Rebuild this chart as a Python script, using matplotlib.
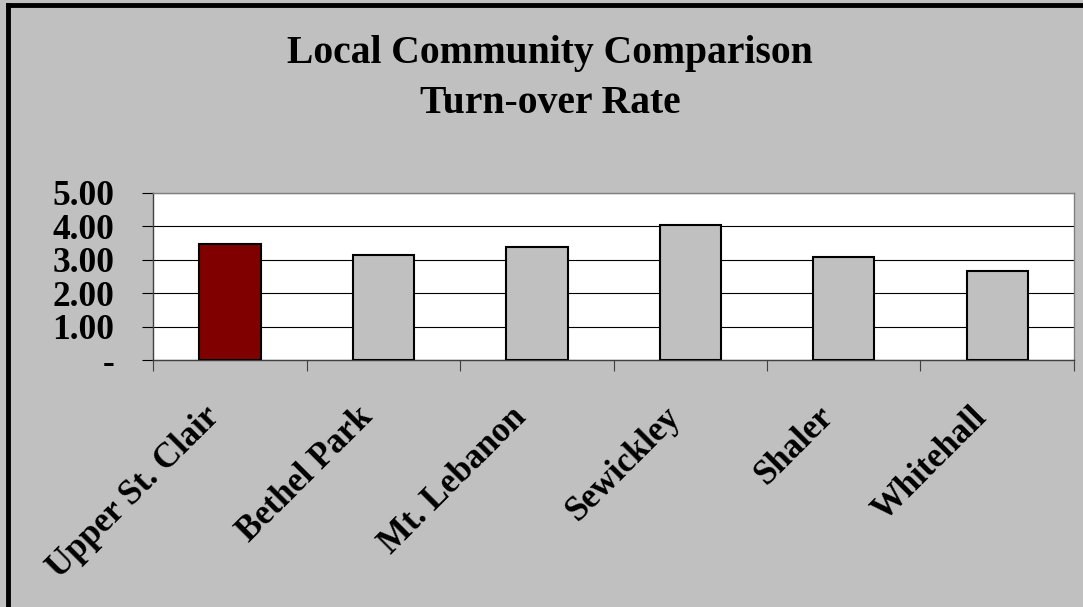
import matplotlib.pyplot as plt
import matplotlib.transforms as mtransforms
from matplotlib.lines import Line2D

# data
communities = ['Upper St. Clair', 'Bethel Park', 'Mt. Lebanon', 'Sewickley', 'Shaler', 'Whitehall']
turnover = [3.46, 3.13, 3.38, 4.05, 3.07, 2.67]
bar_colors = ['#800000', '#C0C0C0', '#C0C0C0', '#C0C0C0', '#C0C0C0', '#C0C0C0']
yticks = [0, 1, 2, 3, 4, 5]
ytick_labels = ['-', '1.00', '2.00', '3.00', '4.00', '5.00']
title_lines = ['Local Community Comparison', 'Turn-over Rate']

plt.rcParams['font.family'] = 'Liberation Serif'
plt.rcParams['font.weight'] = 'bold'

fig = plt.figure(figsize=(10.83, 6.07), dpi=100, facecolor='#C0C0C0')
ax = fig.add_axes([0.1416, 0.4064, 0.850, 0.2761])
ax.set_facecolor('white')

x = range(len(communities))
ax.bar(x, turnover, width=0.4, color=bar_colors, edgecolor='black', linewidth=1.5, zorder=3)

ax.set_xlim(-0.5, len(communities) - 0.5)
ax.set_ylim(0, 5)
ax.set_yticks(yticks)
ax.set_yticklabels(ytick_labels, fontsize=25.5, fontweight='bold')
ax.yaxis.grid(True, color='black', linewidth=0.8, zorder=1)
ax.tick_params(axis='y', direction='out', length=8, width=0.8, pad=20)

# category labels at centers, tick marks at boundaries
ax.set_xticks(list(x))
ax.set_xticklabels(communities, fontsize=25, fontweight='bold', rotation=45,
                   ha='right', va='top', rotation_mode='anchor')
ax.tick_params(axis='x', which='major', length=0, pad=29)
ax.set_xticks([i - 0.5 for i in range(len(communities) + 1)], minor=True)
ax.tick_params(axis='x', which='minor', direction='out', length=8, width=0.8, color='#404040')
shift = mtransforms.ScaledTranslation(-27 / 100, 0, fig.dpi_scale_trans)
for lab in ax.get_xticklabels():
    lab.set_transform(lab.get_transform() + shift)

for side in ['top', 'right']:
    ax.spines[side].set_color('#808080')
    ax.spines[side].set_linewidth(1.0)
for side in ['left', 'bottom']:
    ax.spines[side].set_color('#404040')
    ax.spines[side].set_linewidth(1.0)

fig.text(0.5079, 1 - 63 / 607, title_lines[0], ha='center', va='baseline', fontsize=28.5, fontweight='bold')
fig.text(0.5079, 1 - 113 / 607, title_lines[1], ha='center', va='baseline', fontsize=28.5, fontweight='bold')

# outer chart border (only left and top visible)
fig.add_artist(Line2D([0.0072, 0.0072], [0, 0.9913], transform=fig.transFigure, color='black', linewidth=3.5))
fig.add_artist(Line2D([0.0072, 1.0], [0.9913, 0.9913], transform=fig.transFigure, color='black', linewidth=3.5))

fig.savefig('out.png', dpi=100, facecolor=fig.get_facecolor())
